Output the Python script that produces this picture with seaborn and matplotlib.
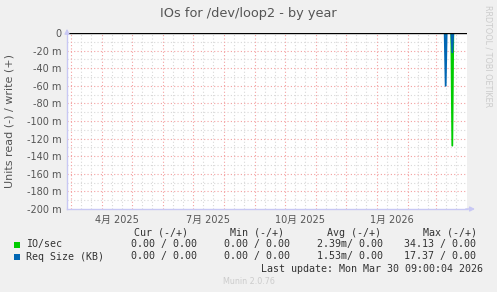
import matplotlib
matplotlib.use("Agg")
import matplotlib.pyplot as plt
import seaborn as sns
import pandas as pd
from matplotlib.patches import Rectangle

# ---------------- data ----------------
times = ["2025-02-25 00:00", "2026-03-09 16:00", "2026-03-10 16:00", "2026-03-11 16:00",
         "2026-03-16 07:00", "2026-03-17 07:00", "2026-03-18 07:00", "2026-03-30 09:00"]
io_read = [0.0, 0.0, -0.002, 0.0, 0.0, -0.128, 0.0, 0.0]
req_read = [0.0, 0.0, -0.060, 0.0, 0.0, -0.022, 0.0, 0.0]
series_names = ["IO/sec", "Req Size (KB)"]
series_colors = ["#00CC00", "#0066B3"]

ytick_vals = [0, -0.02, -0.04, -0.06, -0.08, -0.10, -0.12, -0.14, -0.16, -0.18, -0.20]
ytick_labels = ["0", "-20 m", "-40 m", "-60 m", "-80 m", "-100 m", "-120 m",
                "-140 m", "-160 m", "-180 m", "-200 m"]
xlabel_dates = ["2025-04-16", "2025-07-16", "2025-10-16", "2026-01-16"]
xlabel_texts = ["4月 2025", "7月 2025", "10月 2025", "1月 2026"]
x_start, x_end = "2025-02-25", "2026-04-01"

title = "IOs for /dev/loop2 - by year"
ylabel = "Units read (-) / write (+)"
header = ["Cur (-/+)", "Min (-/+)", "Avg (-/+)", "Max (-/+)"]
rows = [
    ["0.00 / 0.00", "0.00 / 0.00", "2.39m/ 0.00", "34.13 / 0.00"],
    ["0.00 / 0.00", "0.00 / 0.00", "1.53m/ 0.00", "17.37 / 0.00"],
]
last_update = "Last update: Mon Mar 30 09:00:04 2026"
munin_ver = "Munin 2.0.76"
rrd_credit = "RRDTOOL / TOBI OETIKER"

# ---------------- figure ----------------
sns.set_style("white")
plt.rcParams['font.family'] = ['DejaVu Sans', 'Noto Sans CJK JP']

W, H = 497, 292
fig = plt.figure(figsize=(W / 100, H / 100), dpi=100, facecolor="#F0F0F0")
ax = fig.add_axes([67 / W, 1 - 209 / H, 400 / W, 176 / H])
ax.set_facecolor("white")

t = pd.to_datetime(times)
df = pd.DataFrame({
    "time": list(t) * 2,
    "value": io_read + req_read,
    "series": [series_names[0]] * len(t) + [series_names[1]] * len(t),
})

xmin, xmax = pd.Timestamp(x_start), pd.Timestamp(x_end)

# grid
month_starts = pd.date_range("2025-03-01", "2026-03-01", freq="MS")
minor_days = [d for m in pd.date_range("2025-02-01", "2026-03-01", freq="MS")
              for d in (m + pd.Timedelta(days=10), m + pd.Timedelta(days=20))
              if xmin < d < xmax]
grid_red = "#F4A0A0"
grid_grey = "#D8D8D8"
dots = (0, (1, 2))
for d in minor_days:
    ax.axvline(d, color=grid_grey, lw=0.8, ls=dots, zorder=0)
for d in month_starts:
    ax.axvline(d, color=grid_red, lw=0.8, ls=dots, zorder=0.5)
for i in range(len(ytick_vals) - 1):
    ax.axhline((ytick_vals[i] + ytick_vals[i + 1]) / 2, color=grid_grey, lw=0.8, ls=dots, zorder=0)
for v in ytick_vals[1:-1]:
    ax.axhline(v, color=grid_red, lw=0.8, ls=dots, zorder=0.5)

sns.lineplot(data=df, x="time", y="value", hue="series", hue_order=series_names,
             palette=series_colors, legend=False, estimator=None, sort=False,
             lw=1.3, ax=ax, zorder=2)
ax.axhline(0, color="black", lw=1.0, zorder=3)

ax.set_xlim(xmin, xmax)
ax.set_ylim(-0.2, 0.0)
ax.set_xlabel("")
ax.set_ylabel("")

ax.set_yticks(ytick_vals)
ax.set_yticklabels(ytick_labels)
ax.set_xticks(pd.to_datetime(xlabel_dates))
ax.set_xticklabels(xlabel_texts)
ax.set_xticks(month_starts, minor=True)
ax.tick_params(axis="x", which="major", length=0, pad=4, labelsize=7, labelcolor="#555555")
ax.tick_params(axis="x", which="minor", length=2, color=grid_red, width=0.8)
ax.tick_params(axis="y", which="major", length=2, color=grid_red, width=0.8, pad=2,
               labelsize=7, labelcolor="#555555")

axis_col = "#C8C8F4"
for s in ["top", "right"]:
    ax.spines[s].set_visible(False)
for s in ["left", "bottom"]:
    ax.spines[s].set_color(axis_col)
    ax.spines[s].set_linewidth(1.0)

# axis arrows
ax.annotate("", xy=(1.027, 0), xytext=(0.99, 0), xycoords="axes fraction",
            arrowprops=dict(arrowstyle="-|>", color=axis_col, lw=1.0, mutation_scale=7))
ax.annotate("", xy=(0, 1.04), xytext=(0, 0.98), xycoords="axes fraction",
            arrowprops=dict(arrowstyle="-|>", color=axis_col, lw=1.0, mutation_scale=7))

# texts
def fx(px):
    return px / W

def fy(py):
    return 1 - py / H

fig.text(fx(248.5), fy(13), title, ha="center", va="center", fontsize=9.3, color="#555555")
fig.text(fx(10), fy(121), ylabel, ha="center", va="center", rotation=90,
         fontsize=8, color="#555555")
fig.text(fx(488), fy(56), rrd_credit, ha="center", va="center", rotation=270,
         fontsize=5.8, color="#CCCCCC")

mono = dict(family="DejaVu Sans Mono", fontsize=7.2, color="#333333", va="center")
header_x = [134, 230, 327, 423]
for x, h in zip(header_x, header):
    fig.text(fx(x), fy(232.7), h, ha="left", **mono)
row_y = [244.5, 256.5]
cell_x = [131, 224, 317, 404]
for r, (name, col, y) in enumerate(zip(series_names, series_colors, row_y)):
    fig.patches.append(Rectangle((fx(14), fy(y + 3)), 6 / W, 6 / H, transform=fig.transFigure,
                                 facecolor=col, edgecolor="none", figure=fig))
    fig.text(fx(26), fy(y), name, ha="left", **mono)
    for x, v in zip(cell_x, rows[r]):
        fig.text(fx(x), fy(y), v, ha="left", **mono)
fig.text(fx(483), fy(268.7), last_update, ha="right", **mono)
fig.text(fx(249), fy(281), munin_ver, ha="center", va="center", fontsize=5.8, color="#CCCCCC")

fig.savefig("out.png", dpi=100, facecolor=fig.get_facecolor())
